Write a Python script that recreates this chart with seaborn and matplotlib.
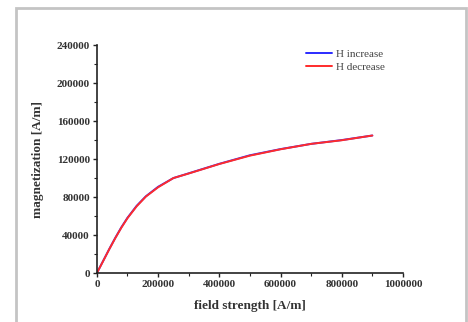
import pandas as pd
import matplotlib.pyplot as plt
import seaborn as sns
from matplotlib.patches import Rectangle
from matplotlib.ticker import MultipleLocator, ScalarFormatter

# field strength H [A/m] and magnetization M [A/m]
h_up = [0, 20000, 40000, 60000, 80000, 100000, 130000, 160000, 200000, 250000,
        300000, 400000, 500000, 600000, 700000, 800000, 900000]
m_up = [0, 12500, 25000, 37000, 48200, 58200, 70800, 80800, 90800, 100000,
        105000, 115000, 124000, 130500, 136000, 140000, 144800]
h_down = [0, 20000, 40000, 60000, 80000, 100000, 130000, 160000, 200000, 250000,
          300000, 400000, 500000, 600000, 700000, 800000, 900000]
m_down = [0, 12300, 24800, 36700, 47800, 57800, 70300, 80500, 90300, 100000,
          104800, 114800, 123600, 130300, 136000, 139800, 144800]

df = pd.concat([
    pd.DataFrame({'H': h_up, 'M': m_up, 'run': 'H increase'}),
    pd.DataFrame({'H': h_down, 'M': m_down, 'run': 'H decrease'}),
])

sns.set_style('ticks')
plt.rcParams['font.family'] = ['Liberation Serif', 'DejaVu Serif']

fig = plt.figure(figsize=(4.68, 3.22), dpi=100)
ax = fig.add_axes([0.207, 0.152, 0.654, 0.708])

# grey frame around the picture
fig.patches.append(Rectangle((16 / 468, -0.05), 450 / 468, 1 - 8 / 322 + 0.05,
                             transform=fig.transFigure, fill=False,
                             edgecolor='#c4c4c4', linewidth=2))

sns.lineplot(data=df, x='H', y='M', hue='run', palette=['#2b2bff', '#ff2b2b'],
             linewidth=1.4, ax=ax, sort=False)

ax.set_xlim(0, 1000000)
ax.set_ylim(0, 240000)
ax.set_xticks([0, 200000, 400000, 600000, 800000, 1000000])
ax.set_yticks([0, 40000, 80000, 120000, 160000, 200000, 240000])
fmt = ScalarFormatter()
fmt.set_scientific(False)
fmt.set_useOffset(False)
ax.xaxis.set_major_formatter(fmt)
ax.xaxis.set_minor_locator(MultipleLocator(100000))
ax.yaxis.set_minor_locator(MultipleLocator(20000))
ax.tick_params(which='major', length=3, width=1, labelsize=8, pad=2, color='#222222')
ax.tick_params(which='minor', length=2, width=0.8, color='#222222')
for lab in ax.get_xticklabels() + ax.get_yticklabels():
    lab.set_fontweight('bold')
    lab.set_color('#333333')
for s in ['left', 'bottom']:
    ax.spines[s].set_linewidth(1.2)
    ax.spines[s].set_color('#222222')
sns.despine(ax=ax)

ax.set_xlabel('field strength [A/m]', fontsize=9.5, fontweight='bold', color='#333333', labelpad=8)
ax.set_ylabel('magnetization [A/m]', fontsize=9.5, fontweight='bold', color='#333333', labelpad=9)

leg = ax.legend(loc='upper left', bbox_to_anchor=(0.65, 1.025), frameon=False, fontsize=8,
                handlelength=2.4, handletextpad=0.3, labelspacing=0.25)
for t in leg.get_texts():
    t.set_color('#444444')

fig.savefig('out.png', dpi=100)
